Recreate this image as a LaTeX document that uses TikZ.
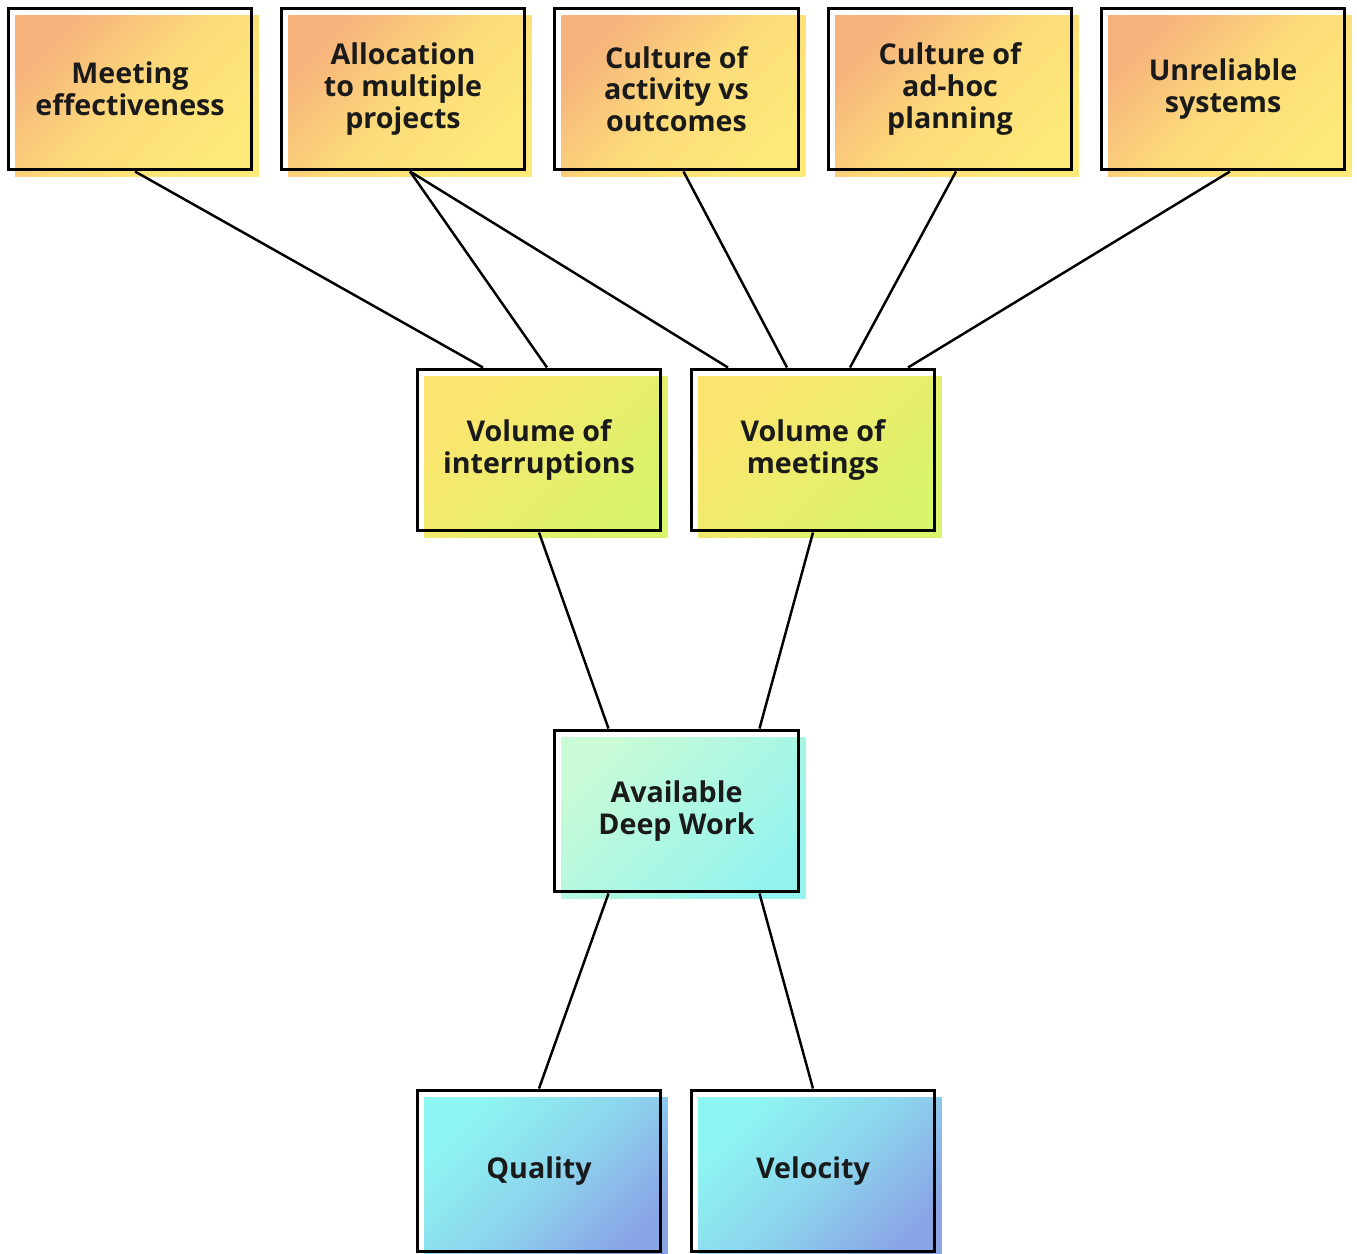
\documentclass[tikz,border=0pt]{standalone}
\usepackage{fontspec}
\setmainfont{Open Sans}
\usetikzlibrary{calc}

\definecolor{peach}{HTML}{F6B27C}
\definecolor{butter}{HTML}{FEE979}
\definecolor{lemon}{HTML}{FDE470}
\definecolor{lime}{HTML}{D9F56B}
\definecolor{mint}{HTML}{C8FBD6}
\definecolor{aqua}{HTML}{94F3EF}
\definecolor{cyanlt}{HTML}{8EF6F2}
\definecolor{lavender}{HTML}{8AA5E6}
\definecolor{inkdark}{HTML}{1A1A1A}

\tikzset{
  card/.style={draw=black, line width=1.7pt, minimum width=4.88cm,
    minimum height=3.24cm, inner sep=0pt, align=center, text=inkdark,
    font=\fontsize{16.3}{18}\selectfont\bfseries},
  cause/.style={card, preaction={top color=peach, bottom color=butter,
    middle color=butter!75!peach,
    shading angle=45, transform canvas={shift={(0.14cm,-0.14cm)}}}},
  driver/.style={card, preaction={top color=lemon, bottom color=lime,
    shading angle=45, transform canvas={shift={(0.14cm,-0.14cm)}}}},
  core/.style={card, preaction={top color=mint, bottom color=aqua,
    shading angle=45, transform canvas={shift={(0.14cm,-0.14cm)}}}},
  outcome/.style={card, preaction={top color=cyanlt, bottom color=lavender,
    middle color=cyanlt!60!lavender,
    shading angle=45, transform canvas={shift={(0.14cm,-0.14cm)}}}},
  link/.style={draw=black, line width=1.4pt},
}

\begin{document}
\begin{tikzpicture}[x=0.02cm, y=-0.02cm]
  \useasboundingbox (0,0) rectangle (1357,1254);

  % root causes
  \node[cause] (meet) at (130,89) {Meeting\\effectiveness};
  \node[cause] (alloc) at (403,89) {Allocation\\to multiple\\projects};
  \node[cause] (activ) at (676.5,89) {Culture of\\activity vs\\outcomes};
  \node[cause] (adhoc) at (950,89) {Culture of\\ad-hoc\\planning};
  \node[cause] (unrel) at (1223,89) {Unreliable\\systems};

  % drivers
  \node[driver] (intr) at (539,450) {Volume of\\interruptions};
  \node[driver] (mtgs) at (813,450) {Volume of\\meetings};

  \node[core] (deep) at (676.5,811) {Available\\Deep Work};

  \node[outcome] (qual) at (539,1171) {Quality};
  \node[outcome] (velo) at (813,1171) {Velocity};

  \draw[link] ($(meet.south)+(5,0)$) -- ($(intr.north)+(-56,0)$);
  \draw[link] ($(alloc.south)+(7,0)$) -- ($(intr.north)+(8,0)$);
  \draw[link] ($(alloc.south)+(7,0)$) -- ($(mtgs.north)+(-85,0)$);
  \draw[link] ($(activ.south)+(7,0)$) -- ($(mtgs.north)+(-26,0)$);
  \draw[link] ($(adhoc.south)+(6,0)$) -- ($(mtgs.north)+(37,0)$);
  \draw[link] ($(unrel.south)+(7,0)$) -- ($(mtgs.north)+(95,0)$);

  \draw[link] (intr.south) -- ($(deep.north)+(-68,0)$);
  \draw[link] (mtgs.south) -- ($(deep.north)+(83,0)$);

  \draw[link] ($(deep.south)+(-68,0)$) -- (qual.north);
  \draw[link] ($(deep.south)+(83,0)$) -- (velo.north);
\end{tikzpicture}
\end{document}
